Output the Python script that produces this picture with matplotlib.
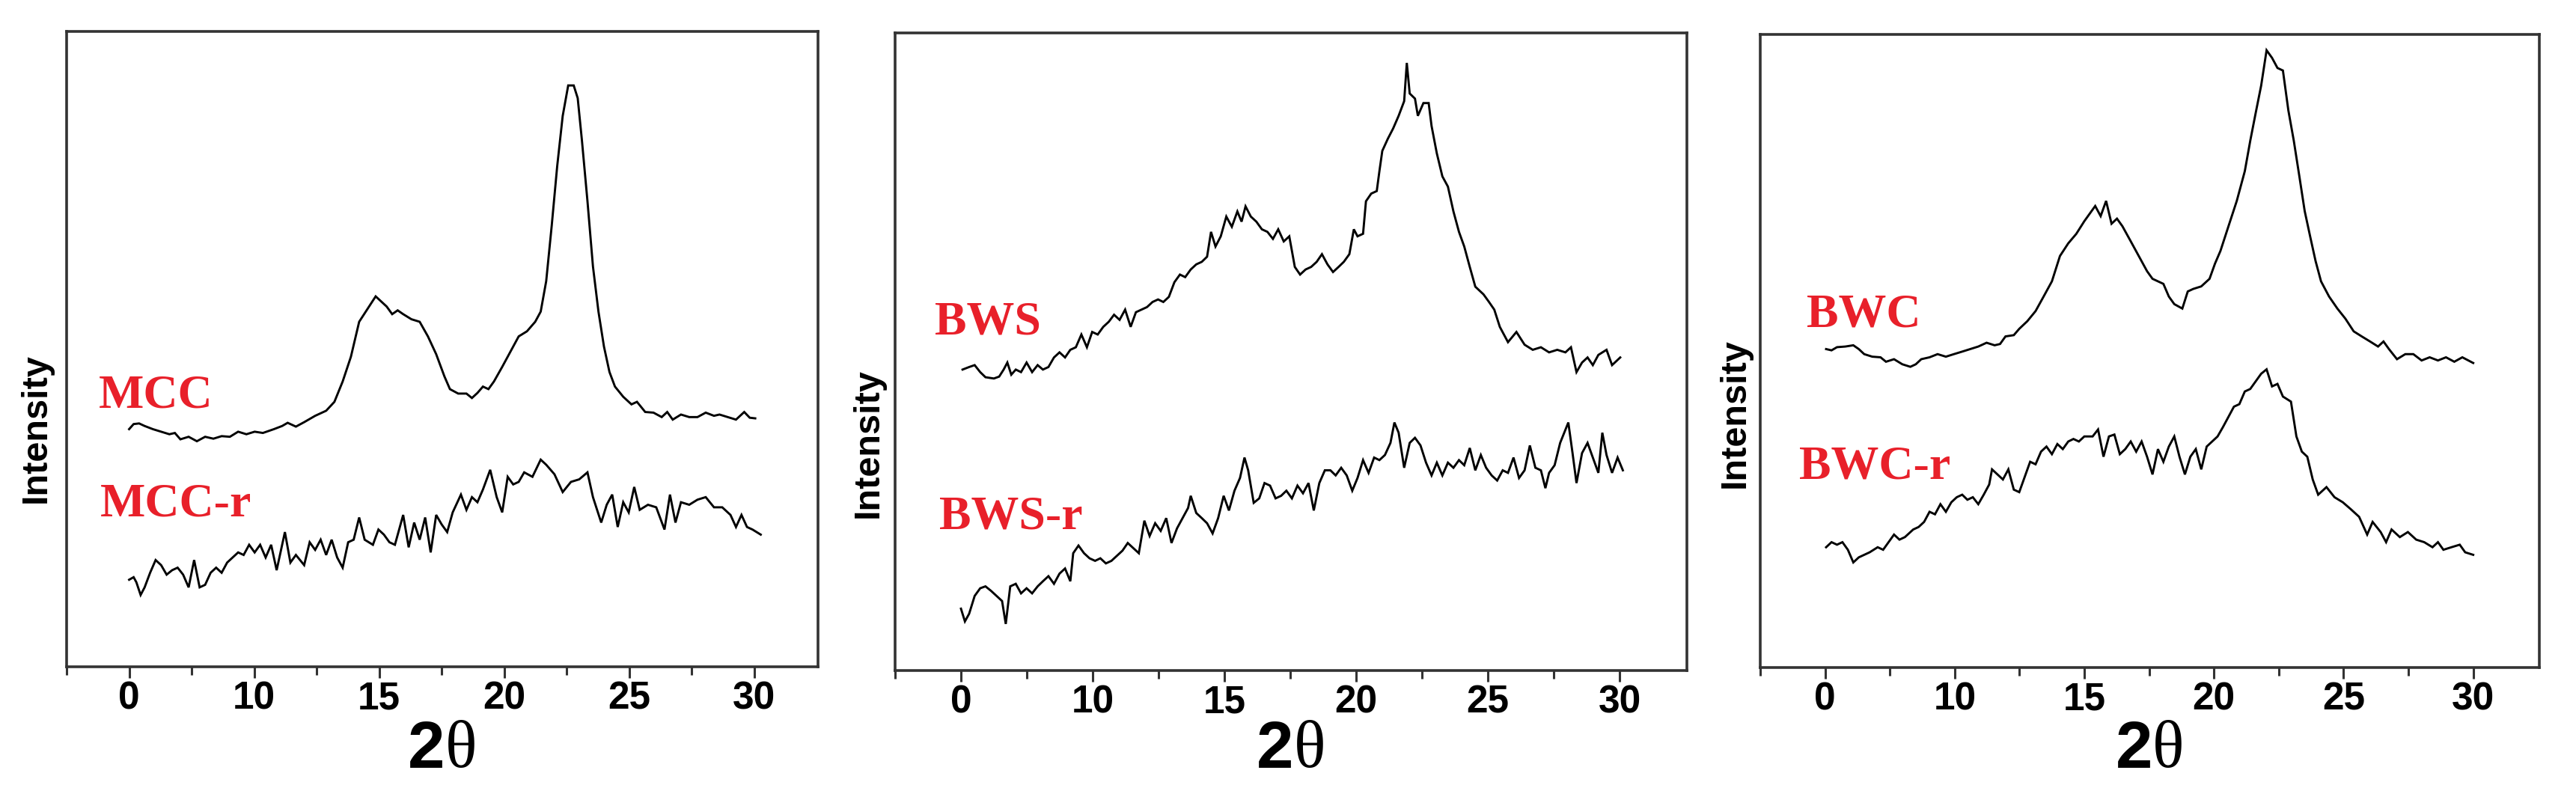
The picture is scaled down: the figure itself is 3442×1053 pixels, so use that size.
import numpy as np
import matplotlib; matplotlib.use('Agg'); import matplotlib.pyplot as plt

# XRD patterns (2theta in deg, intensity in a.u., 0-100 of the frame)
mcc_x = [5.00, 5.18, 5.40, 5.62, 5.95, 6.28, 6.61, 6.83, 7.05, 7.38,
         7.71, 8.04, 8.37, 8.70, 9.03, 9.36, 9.69, 10.02, 10.35, 10.79,
         11.12, 11.34, 11.67, 12.00, 12.44, 12.88, 13.21, 13.54, 13.87, 14.20,
         14.53, 14.86, 15.08, 15.30, 15.52, 15.74, 15.96, 16.29, 16.62, 16.95,
         17.28, 17.61, 17.83, 18.16, 18.49, 18.71, 18.93, 19.15, 19.37, 19.59,
         19.92, 20.25, 20.58, 20.91, 21.24, 21.46, 21.68, 21.90, 22.12, 22.34,
         22.56, 22.78, 22.94, 23.11, 23.33, 23.55, 23.77, 23.99, 24.21, 24.43,
         24.76, 25.09, 25.31, 25.64, 25.97, 26.30, 26.52, 26.74, 27.07, 27.40,
         27.73, 28.06, 28.39, 28.61, 28.94, 29.27, 29.60, 29.82, 30.04]
mcc_y = [37.4, 38.2, 38.3, 37.9, 37.4, 37.0, 36.6, 36.8, 35.8, 36.2,
         35.5, 36.2, 35.9, 36.3, 36.2, 37.0, 36.6, 37.0, 36.8, 37.4,
         37.9, 38.4, 37.8, 38.5, 39.5, 40.3, 41.7, 44.9, 48.8, 54.3,
         56.3, 58.3, 57.5, 56.7, 55.5, 56.1, 55.5, 54.7, 54.3, 52.0,
         49.2, 45.7, 43.7, 43.0, 43.0, 42.3, 43.1, 44.1, 43.7, 44.9,
         47.2, 49.6, 52.0, 52.8, 54.3, 55.9, 60.7, 69.4, 78.8, 86.7,
         91.5, 91.5, 89.5, 82.8, 73.3, 63.0, 55.9, 50.4, 46.4, 44.1,
         42.5, 41.3, 41.7, 40.1, 40.0, 39.3, 40.1, 38.9, 39.7, 39.3,
         39.3, 40.0, 39.5, 39.7, 39.3, 38.9, 40.1, 39.2, 39.1]

mccr_x = [5.00, 5.18, 5.29, 5.46, 5.62, 5.84, 6.06, 6.28, 6.50, 6.72,
          6.94, 7.16, 7.38, 7.60, 7.82, 8.04, 8.26, 8.48, 8.70, 8.92,
          9.14, 9.36, 9.58, 9.80, 10.02, 10.24, 10.46, 10.68, 10.90, 11.23,
          11.45, 11.67, 12.00, 12.22, 12.44, 12.66, 12.88, 13.10, 13.32, 13.54,
          13.76, 13.98, 14.20, 14.42, 14.75, 14.97, 15.19, 15.41, 15.63, 15.96,
          16.18, 16.40, 16.62, 16.84, 17.06, 17.28, 17.50, 17.72, 17.94, 18.27,
          18.49, 18.71, 18.93, 19.15, 19.44, 19.70, 19.92, 20.14, 20.36, 20.58,
          20.80, 21.13, 21.46, 21.68, 22.01, 22.34, 22.67, 23.00, 23.33, 23.55,
          23.88, 24.10, 24.32, 24.54, 24.76, 24.98, 25.20, 25.42, 25.75, 26.08,
          26.41, 26.63, 26.85, 27.07, 27.40, 27.73, 28.06, 28.39, 28.72, 29.05,
          29.27, 29.49, 29.71, 29.93, 30.26]
mccr_y = [13.7, 14.1, 13.3, 11.3, 12.5, 14.8, 16.8, 16.0, 14.5, 15.2,
          15.6, 14.5, 12.5, 16.8, 12.5, 12.9, 14.8, 15.6, 14.8, 16.4,
          17.2, 18.0, 17.6, 19.2, 18.0, 19.2, 17.2, 19.2, 15.2, 21.2,
          16.4, 17.6, 16.0, 19.6, 18.4, 20.0, 17.6, 20.0, 17.2, 15.6,
          19.6, 20.0, 23.5, 20.0, 19.2, 21.6, 20.8, 19.6, 19.2, 23.9,
          18.8, 22.7, 20.0, 23.5, 18.0, 23.9, 22.4, 21.2, 24.3, 27.1,
          24.7, 26.7, 25.9, 27.9, 31.0, 26.7, 24.3, 29.9, 28.7, 29.1,
          30.6, 29.9, 32.6, 31.8, 30.3, 27.5, 29.1, 29.5, 30.6, 26.7,
          22.7, 25.5, 27.1, 22.0, 25.9, 24.3, 28.3, 24.7, 25.5, 25.1,
          21.6, 27.1, 22.7, 25.9, 25.5, 26.3, 26.7, 25.1, 25.1, 23.9,
          22.0, 23.9, 22.0, 21.6, 20.8]

bws_x = [5.06, 5.31, 5.52, 5.73, 5.93, 6.25, 6.45, 6.62, 6.76, 6.91,
         7.08, 7.28, 7.49, 7.70, 7.91, 8.11, 8.32, 8.53, 8.74, 8.95,
         9.15, 9.36, 9.57, 9.78, 9.98, 10.19, 10.40, 10.61, 10.81, 11.02,
         11.23, 11.44, 11.64, 11.85, 12.06, 12.27, 12.48, 12.68, 12.89, 13.10,
         13.31, 13.51, 13.72, 13.93, 14.14, 14.34, 14.49, 14.66, 14.86, 15.07,
         15.28, 15.49, 15.65, 15.80, 16.00, 16.21, 16.42, 16.63, 16.84, 17.04,
         17.25, 17.46, 17.67, 17.87, 18.08, 18.29, 18.50, 18.70, 18.91, 19.12,
         19.33, 19.53, 19.74, 19.91, 20.05, 20.26, 20.37, 20.57, 20.78, 20.88,
         20.99, 21.20, 21.40, 21.61, 21.82, 21.92, 22.03, 22.23, 22.34, 22.55,
         22.75, 22.86, 23.06, 23.27, 23.48, 23.69, 23.90, 24.10, 24.31, 24.52,
         24.83, 25.04, 25.24, 25.45, 25.76, 26.08, 26.39, 26.70, 27.01, 27.32,
         27.63, 27.94, 28.15, 28.36, 28.57, 28.78, 28.98, 29.19, 29.50, 29.71,
         30.02]
bws_y = [47.2, 47.6, 47.9, 46.8, 46.0, 45.8, 46.1, 47.2, 48.3, 46.4,
         47.2, 46.8, 48.3, 46.8, 47.9, 47.2, 47.6, 49.1, 49.9, 49.1,
         50.3, 50.7, 52.7, 50.7, 53.1, 52.7, 53.9, 54.7, 55.8, 55.0,
         56.6, 53.9, 56.2, 56.6, 57.0, 57.8, 58.2, 57.8, 58.6, 60.9,
         62.1, 61.7, 62.9, 63.7, 64.1, 64.9, 68.8, 66.5, 68.1, 71.2,
         69.6, 72.0, 70.4, 72.8, 71.2, 70.4, 69.2, 68.8, 67.7, 69.2,
         67.3, 68.1, 63.3, 62.1, 62.9, 63.3, 64.1, 65.3, 63.7, 62.5,
         63.3, 64.1, 65.3, 69.2, 68.1, 68.5, 73.6, 74.8, 75.2, 78.3,
         81.5, 83.4, 85.0, 87.0, 89.3, 95.3, 90.5, 89.7, 87.0, 89.0,
         89.0, 85.4, 81.1, 77.5, 75.9, 72.0, 68.8, 66.5, 63.3, 60.2,
         59.0, 57.8, 56.6, 53.9, 51.5, 53.1, 51.1, 50.3, 50.7, 49.9,
         50.3, 49.9, 50.7, 46.8, 48.3, 49.1, 47.9, 49.5, 50.3, 47.9,
         49.1]

bwsr_x = [5.00, 5.15, 5.31, 5.52, 5.73, 5.93, 6.14, 6.35, 6.56, 6.70,
          6.87, 7.08, 7.28, 7.49, 7.70, 7.91, 8.11, 8.32, 8.53, 8.74,
          8.95, 9.15, 9.26, 9.46, 9.67, 9.88, 10.09, 10.29, 10.50, 10.71,
          10.92, 11.13, 11.33, 11.54, 11.75, 11.96, 12.16, 12.37, 12.58, 12.79,
          12.99, 13.20, 13.41, 13.62, 13.72, 13.93, 14.14, 14.34, 14.55, 14.76,
          14.97, 15.17, 15.38, 15.59, 15.76, 15.90, 16.11, 16.32, 16.52, 16.73,
          16.94, 17.15, 17.35, 17.56, 17.77, 17.98, 18.19, 18.39, 18.60, 18.81,
          19.02, 19.22, 19.43, 19.64, 19.85, 20.05, 20.26, 20.47, 20.68, 20.88,
          21.09, 21.30, 21.45, 21.61, 21.82, 22.03, 22.23, 22.44, 22.65, 22.86,
          23.06, 23.27, 23.48, 23.69, 23.90, 24.10, 24.31, 24.52, 24.73, 24.93,
          25.14, 25.35, 25.56, 25.76, 25.97, 26.18, 26.39, 26.59, 26.80, 27.01,
          27.18, 27.32, 27.53, 27.74, 28.05, 28.21, 28.36, 28.57, 28.78, 28.98,
          29.19, 29.34, 29.50, 29.71, 29.92, 30.12]
bwsr_y = [9.7, 7.7, 8.9, 11.7, 12.9, 13.2, 12.5, 11.7, 10.9, 7.3,
          13.2, 13.6, 12.1, 12.9, 12.1, 13.2, 14.0, 14.8, 13.6, 15.2,
          16.0, 14.0, 18.4, 19.6, 18.4, 17.6, 17.2, 17.6, 16.8, 17.2,
          18.0, 18.8, 20.0, 19.2, 18.4, 23.5, 21.1, 23.1, 21.9, 23.9,
          20.0, 22.3, 23.9, 25.5, 27.4, 24.7, 23.9, 23.1, 21.5, 23.9,
          27.4, 25.1, 28.2, 30.2, 33.4, 31.4, 26.3, 27.0, 29.4, 29.0,
          27.0, 27.4, 28.2, 27.0, 29.0, 27.8, 29.4, 25.1, 29.4, 31.4,
          31.4, 30.6, 31.8, 30.6, 28.2, 30.2, 33.0, 31.0, 33.4, 33.0,
          33.8, 35.7, 38.9, 37.3, 31.8, 35.7, 36.5, 35.3, 32.6, 30.6,
          32.6, 30.6, 32.6, 31.8, 33.0, 32.2, 34.9, 31.4, 33.8, 31.8,
          30.6, 29.8, 31.4, 31.0, 33.4, 30.2, 31.4, 35.3, 31.8, 31.4,
          28.6, 31.0, 32.2, 35.7, 38.9, 34.1, 29.4, 34.1, 35.7, 33.4,
          31.0, 37.3, 33.8, 31.0, 33.4, 31.4]

bwc_x = [5.04, 5.25, 5.46, 5.78, 6.09, 6.30, 6.51, 6.82, 7.14, 7.35,
         7.66, 7.98, 8.29, 8.50, 8.71, 9.03, 9.34, 9.66, 9.97, 10.29,
         10.60, 10.91, 11.23, 11.54, 11.75, 11.96, 12.28, 12.49, 12.80, 13.12,
         13.43, 13.75, 14.06, 14.38, 14.69, 15.00, 15.21, 15.42, 15.63, 15.84,
         16.05, 16.26, 16.47, 16.78, 17.10, 17.42, 17.63, 17.84, 18.05, 18.26,
         18.47, 18.78, 18.99, 19.20, 19.51, 19.83, 20.04, 20.25, 20.56, 20.88,
         21.19, 21.40, 21.61, 21.82, 22.03, 22.24, 22.45, 22.66, 22.87, 23.08,
         23.29, 23.50, 23.71, 23.92, 24.13, 24.44, 24.76, 25.07, 25.39, 25.70,
         26.02, 26.33, 26.54, 26.75, 27.06, 27.38, 27.69, 28.01, 28.32, 28.64,
         28.95, 29.27, 29.58, 30.00]
bwc_y = [50.3, 50.1, 50.6, 50.7, 50.9, 50.3, 49.5, 49.1, 49.0, 48.3,
         48.7, 47.9, 47.5, 47.9, 48.7, 49.0, 49.5, 49.1, 49.5, 49.9,
         50.3, 50.7, 51.3, 50.9, 51.1, 52.3, 52.5, 53.5, 54.7, 56.3,
         58.6, 61.0, 65.0, 67.0, 68.5, 70.5, 71.7, 72.9, 71.3, 73.7,
         70.1, 70.9, 69.7, 67.4, 65.0, 62.6, 61.4, 61.0, 60.6, 58.6,
         57.4, 56.7, 59.4, 59.8, 60.2, 61.4, 63.8, 65.8, 69.7, 73.7,
         78.4, 83.2, 87.6, 91.9, 97.5, 96.3, 94.7, 94.3, 88.0, 83.2,
         77.7, 72.1, 68.1, 64.2, 61.0, 58.6, 56.7, 55.1, 53.1, 52.3,
         51.5, 50.7, 51.5, 50.3, 48.7, 49.5, 49.5, 48.5, 49.0, 48.5,
         49.0, 48.3, 49.0, 48.1]

bwcr_x = [5.04, 5.25, 5.46, 5.67, 5.88, 6.09, 6.30, 6.51, 6.72, 7.03,
          7.24, 7.45, 7.66, 7.87, 8.08, 8.40, 8.61, 8.82, 9.03, 9.24,
          9.45, 9.66, 9.87, 10.08, 10.29, 10.49, 10.70, 10.91, 11.12, 11.33,
          11.44, 11.65, 11.86, 12.07, 12.28, 12.49, 12.70, 12.91, 13.12, 13.33,
          13.54, 13.75, 13.96, 14.17, 14.38, 14.58, 14.79, 15.00, 15.32, 15.53,
          15.74, 15.95, 16.16, 16.37, 16.58, 16.79, 17.00, 17.21, 17.42, 17.63,
          17.84, 18.05, 18.26, 18.47, 18.67, 18.88, 19.09, 19.30, 19.51, 19.72,
          19.93, 20.14, 20.35, 20.56, 20.77, 20.98, 21.19, 21.40, 21.61, 21.82,
          22.03, 22.24, 22.45, 22.66, 22.97, 23.18, 23.39, 23.60, 23.81, 24.02,
          24.34, 24.65, 24.97, 25.28, 25.60, 25.91, 26.12, 26.43, 26.64, 26.85,
          27.17, 27.48, 27.80, 28.11, 28.43, 28.64, 28.85, 29.16, 29.48, 29.69,
          30.00]
bwcr_y = [19.0, 19.8, 19.4, 19.8, 18.6, 16.6, 17.4, 17.8, 18.2, 19.0,
          18.6, 19.8, 21.0, 20.2, 20.6, 21.8, 22.2, 23.0, 24.6, 24.2,
          25.8, 24.6, 26.1, 26.9, 27.3, 26.5, 26.9, 25.8, 27.3, 28.9,
          31.3, 30.5, 29.7, 31.3, 28.1, 27.7, 30.1, 32.5, 32.1, 34.1,
          34.9, 33.7, 35.3, 34.5, 35.7, 36.1, 35.7, 36.5, 36.5, 37.6,
          33.3, 36.5, 36.8, 33.7, 34.5, 35.7, 34.1, 35.7, 33.3, 30.5,
          34.5, 32.5, 34.9, 36.5, 33.3, 30.5, 33.3, 34.5, 31.3, 34.9,
          35.7, 36.5, 38.0, 39.6, 41.2, 41.6, 43.6, 44.0, 45.2, 46.4,
          47.1, 44.4, 44.8, 42.8, 42.0, 36.5, 34.1, 33.3, 29.7, 27.3,
          28.5, 26.9, 26.1, 25.0, 23.8, 21.0, 23.0, 21.4, 19.8, 21.8,
          20.6, 21.4, 20.2, 19.8, 19.0, 19.8, 18.6, 19.0, 19.4, 18.2,
          17.8]

tick_pos = [5, 10, 15, 20, 25, 30]
tick_labels = ['0', '10', '15', '20', '25', '30']
minor_pos = [2.5, 7.5, 12.5, 17.5, 22.5, 27.5]

RED = '#e8202a'
W, H = 3442, 1053
fig = plt.figure(figsize=(W/100, H/100), dpi=100)

# (left, right, top, bottom) of each frame in pixels, and label placements
panels = [
    dict(box=(89, 1093, 42, 891), curves=[(mcc_x, mcc_y), (mccr_x, mccr_y)],
         names=[('MCC', 0.043, 0.408), ('MCC-r', 0.045, 0.237)], ylab=(48, 572)),
    dict(box=(1196, 2254, 44, 896), curves=[(bws_x, bws_y), (bwsr_x, bwsr_y)],
         names=[('BWS', 0.050, 0.527), ('BWS-r', 0.056, 0.223)], ylab=(1160, 592)),
    dict(box=(2352, 3393, 46, 892), curves=[(bwc_x, bwc_y), (bwcr_x, bwcr_y)],
         names=[('BWC', 0.060, 0.539), ('BWC-r', 0.050, 0.298)], ylab=(2318, 552)),
]

for p in panels:
    l, r, t, b = p['box']
    ax = fig.add_axes([l/W, 1-b/H, (r-l)/W, (b-t)/H])
    for xs, ys in p['curves']:
        ax.plot(xs, ys, color='black', lw=2.1, solid_joinstyle='miter')
    ax.set_xlim(2.5, 32.55); ax.set_ylim(0, 100)
    ax.set_xticks(tick_pos); ax.set_xticklabels(tick_labels)
    ax.set_xticks(minor_pos, minor=True)
    ax.set_yticks([])
    ax.tick_params(axis='x', which='major', direction='out', length=11, width=2.2,
                   color='#333333', pad=2, labelsize=37)
    ax.tick_params(axis='x', which='minor', direction='out', length=8, width=2.2, color='#333333')
    for lab in ax.get_xticklabels():
        lab.set_fontfamily('Liberation Sans'); lab.set_fontweight('bold')
    for s in ax.spines.values():
        s.set_color('#333333'); s.set_linewidth(2.6)
    for name, nx, ny in p['names']:
        ax.text(nx, ny, name, transform=ax.transAxes, color=RED, fontsize=46,
                family='Liberation Serif', fontweight='bold', ha='left', va='baseline')
    # axis title "2θ": bold sans 2, plain serif theta
    cx = (l + r) / 2 / W
    fig.text(cx + 0.001, 1-1003/H, '2', ha='right', va='center', fontsize=64,
             family='Liberation Sans', fontweight='bold')
    fig.text(cx + 0.001, 1-1003/H, 'θ', ha='left', va='center', fontsize=64,
             family='Liberation Serif')
    yx, yy = p['ylab']
    fig.text(yx/W, 1-yy/H, 'Intensity', rotation=90, ha='center', va='center',
             fontsize=35, family='Liberation Sans', fontweight='bold')

fig.savefig('out.png', dpi=100, facecolor='white')
